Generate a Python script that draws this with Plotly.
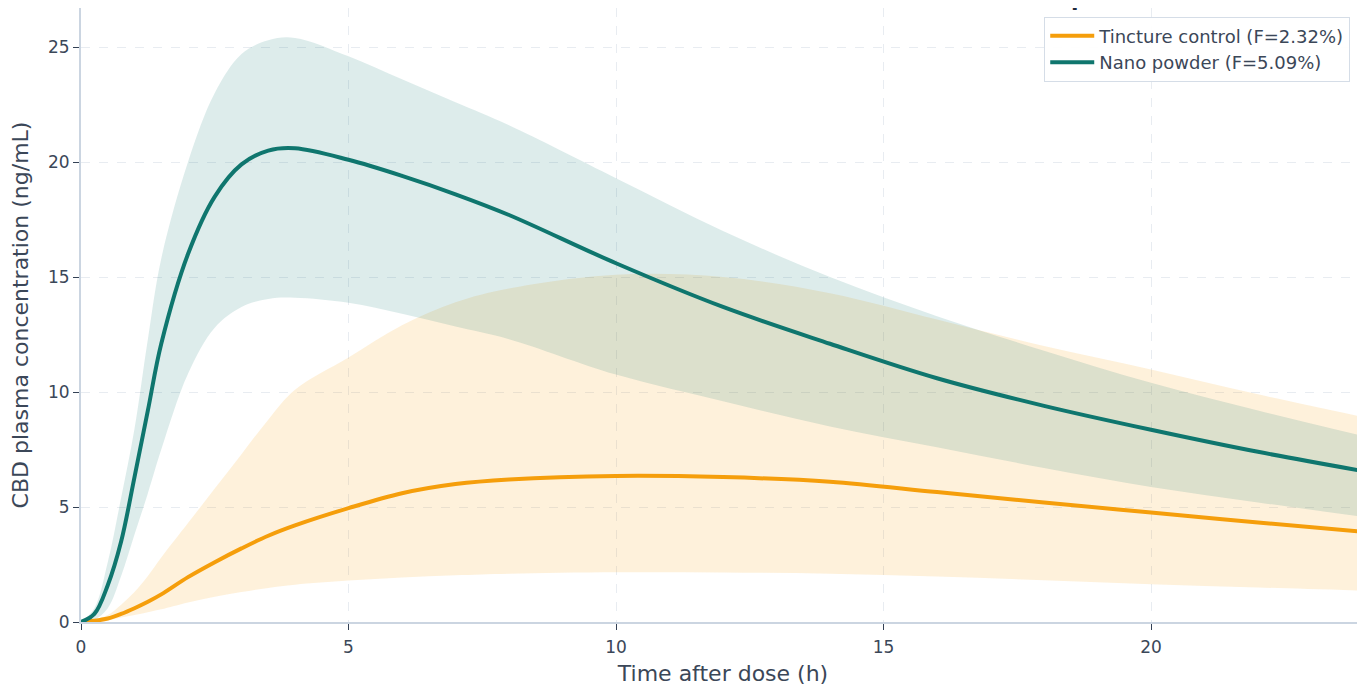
import plotly.graph_objects as go

time_h = [0, 0.25, 0.5, 0.75, 1, 1.25, 1.5, 2, 2.5, 3, 3.5, 4, 5, 6, 7, 8, 10, 12, 14, 16, 18, 20, 22, 24]

nano_mean = [0, 0.35, 1.6, 3.5, 6.3, 9.2, 12.1, 16.0, 18.5, 19.9, 20.5, 20.6, 20.1, 19.4, 18.6, 17.7, 15.6, 13.7, 12.1, 10.6, 9.4, 8.36, 7.4, 6.55]
nano_upper = [0, 0.6, 2.6, 5.4, 8.4, 12.3, 15.8, 20.0, 23.0, 24.7, 25.3, 25.4, 24.6, 23.6, 22.6, 21.6, 19.3, 17.0, 15.0, 13.3, 11.8, 10.4, 9.2, 8.07]
nano_lower = [0, 0.1, 0.6, 2.0, 3.8, 5.6, 7.5, 10.8, 12.8, 13.7, 14.05, 14.1, 13.88, 13.4, 12.85, 12.3, 10.76, 9.6, 8.5, 7.6, 6.7, 5.87, 5.2, 4.56]

tinc_mean = [0, 0.05, 0.15, 0.35, 0.6, 0.88, 1.2, 1.95, 2.6, 3.2, 3.75, 4.2, 4.95, 5.6, 6.0, 6.2, 6.35, 6.3, 6.1, 5.65, 5.2, 4.76, 4.33, 3.91]
tinc_upper = [0, 0.1, 0.3, 0.75, 1.3, 2.0, 2.8, 4.3, 5.8, 7.3, 8.8, 10.1, 11.5, 12.9, 13.9, 14.5, 15.1, 15.0, 14.3, 13.15, 12.0, 10.98, 9.9, 8.9]
tinc_lower = [0, 0.02, 0.08, 0.2, 0.3, 0.42, 0.55, 0.85, 1.1, 1.3, 1.48, 1.62, 1.8, 1.93, 2.03, 2.1, 2.16, 2.15, 2.1, 1.98, 1.82, 1.64, 1.5, 1.36]

series_names = ["Tincture control (F=2.32%)", "Nano powder (F=5.09%)"]
title_text = "Plasma profile over 24 h"
ORANGE = "#f59e0b"
TEAL = "#0f766e"
TEXT = "#3b4758"
FONT = "DejaVu Sans, sans-serif"

fig = go.Figure()

def band(upper, lower, fill):
    fig.add_trace(go.Scatter(x=time_h, y=upper, mode="lines", line=dict(width=0, shape="spline"),
                             showlegend=False, hoverinfo="skip"))
    fig.add_trace(go.Scatter(x=time_h, y=lower, mode="lines", line=dict(width=0, shape="spline"),
                             fill="tonexty", fillcolor=fill, showlegend=False, hoverinfo="skip"))

band(tinc_upper, tinc_lower, "rgba(245,158,11,0.15)")
band(nano_upper, nano_lower, "rgba(15,118,110,0.14)")

fig.add_trace(go.Scatter(x=time_h, y=tinc_mean, mode="lines", name=series_names[0],
                         line=dict(color=ORANGE, width=4, shape="spline")))
fig.add_trace(go.Scatter(x=time_h, y=nano_mean, mode="lines", name=series_names[1],
                         line=dict(color=TEAL, width=4, shape="spline")))

axis_common = dict(
    showline=True, linecolor="#cbd5e1", linewidth=2, mirror=True,
    showgrid=True, gridcolor="#e8ecf1", griddash="dash", gridwidth=1,
    ticks="outside", ticklen=6, tickcolor="#334155", tickwidth=1,
    zeroline=False, tickfont=dict(size=17, color=TEXT, family=FONT),
    automargin=False,
)

fig.update_layout(
    width=1365, height=686,
    margin=dict(l=73, r=8, t=0, b=72, autoexpand=False),
    paper_bgcolor="white", plot_bgcolor="white",
    font=dict(family=FONT, color=TEXT),
    xaxis=dict(range=[0, 24], dtick=5, ticklabelstandoff=3,
               title=dict(text="Time after dose (h)", font=dict(size=22, color=TEXT, family=FONT), standoff=9),
               **axis_common),
    yaxis=dict(range=[0, 26.7], dtick=5,
               title=dict(text="CBD plasma concentration (ng/mL)", font=dict(size=22, color=TEXT, family=FONT), standoff=16),
               **axis_common),
    legend=dict(x=0.9885, y=0.986, xanchor="right", yanchor="top", traceorder="normal",
                itemwidth=44, tracegroupgap=0,
                bgcolor="rgba(255,255,255,0.92)", bordercolor="#d5dde7", borderwidth=1,
                font=dict(size=18, color=TEXT, family=FONT)),
)

fig.add_annotation(text="<b>" + title_text + "</b>", xref="paper", yref="paper",
                   x=(966 - 81) / 1276, y=1, xanchor="left", yanchor="bottom", yshift=-5,
                   showarrow=False, font=dict(size=22, color="#1e293b", family=FONT))

fig.write_html("out.html")
